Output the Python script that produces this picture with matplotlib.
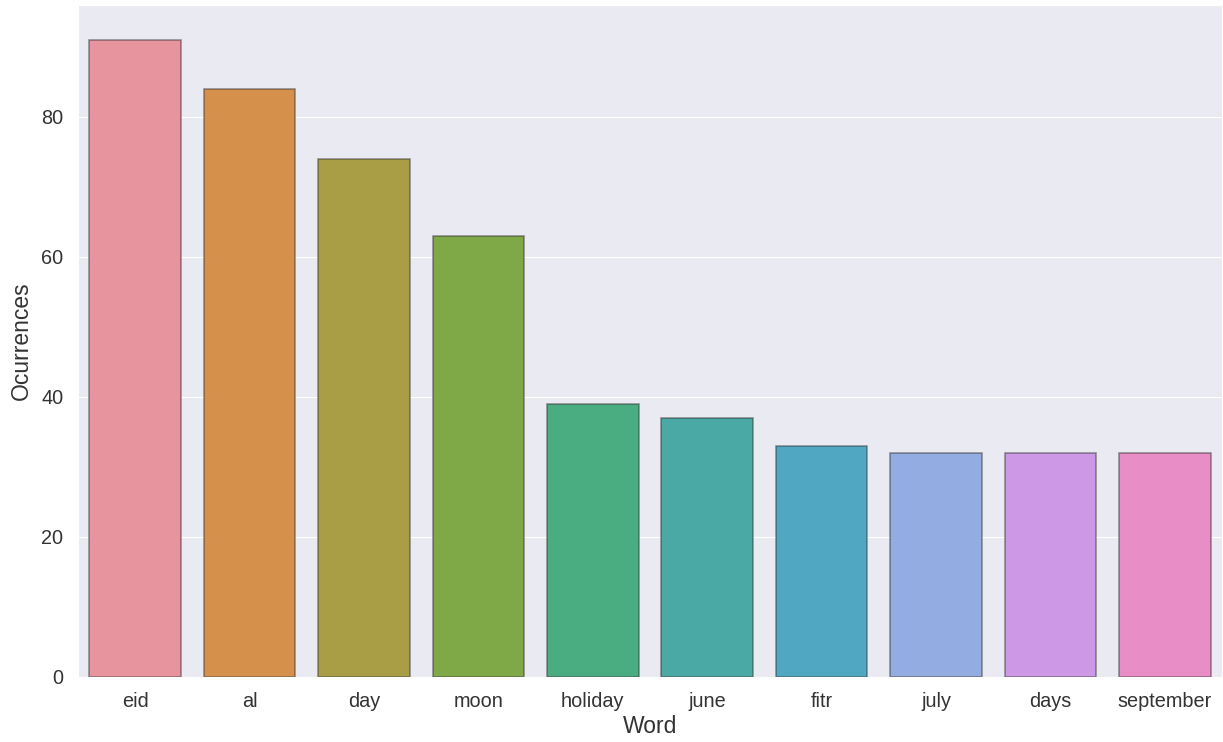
import numpy as np
import matplotlib
matplotlib.use("Agg")
import matplotlib.pyplot as plt
import seaborn as sns

words = ["eid", "al", "day", "moon", "holiday", "june", "fitr", "july", "days", "september"]
counts = [91, 84, 74, 63, 39, 37, 33, 32, 32, 32]

# washed-out husl palette, as in the original
colors = ["#e8949f", "#d5914c", "#a99e46", "#7fa846", "#4aad82",
          "#4aa9a4", "#4fa7c2", "#93ade3", "#cd99e6", "#e98dc7"]

sns.set_style("darkgrid")
plt.rcParams["font.family"] = ["Liberation Sans", "DejaVu Sans"]

fig = plt.figure(figsize=(12.23, 7.42), dpi=100)
ax = fig.add_axes([78 / 1223, 1 - 677 / 742, 1144 / 1223, 672 / 742])
x = np.arange(len(words))
ax.bar(x, counts, width=0.8, color=colors, edgecolor=(0.2, 0.2, 0.2, 0.5), linewidth=1.2)
ax.set_xlim(-0.5, len(words) - 0.5)
ax.set_ylim(0, 96)
ax.set_yticks([0, 20, 40, 60, 80])
ax.set_xticks(x)
ax.set_xticklabels(words)
ax.grid(axis="x", visible=False)
ax.tick_params(labelsize=14.3, colors="#333333", pad=7)
ax.set_xlabel("Word", fontsize=16.5, color="#333333", labelpad=3)
ax.set_ylabel("Ocurrences", fontsize=16.5, color="#333333", labelpad=6)

fig.savefig("out.png")
